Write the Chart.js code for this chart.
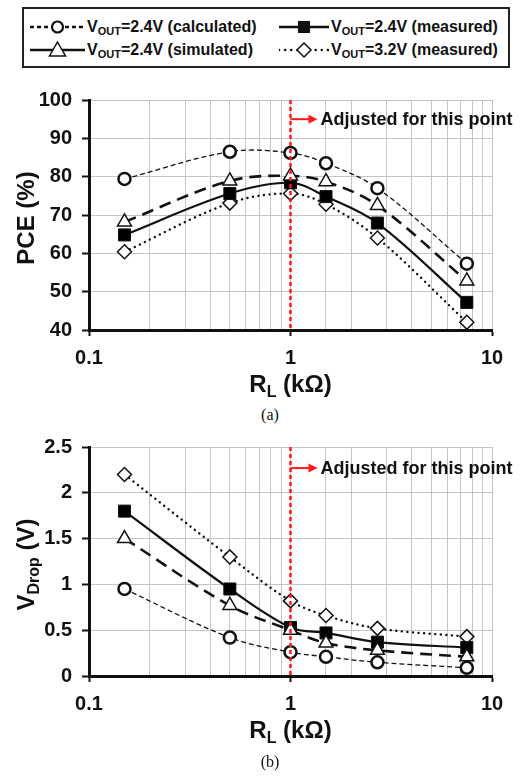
<!DOCTYPE html>
<html lang="en">
<head>
<meta charset="UTF-8">
<title>PCE and VDrop vs RL</title>
<script src="https://cdn.jsdelivr.net/npm/chart.js"></script>
<style>
    body { margin: 0; width: 527px; height: 777px; background: #fff; position: relative; overflow: hidden;
           font-family: 'Liberation Sans', Arial, sans-serif; color: #111; }
    .legend { position: absolute; left: 22px; top: 7px; width: 484px; height: 57px; border: 2px solid #222; }
    .item { position: absolute; display: flex; align-items: center; height: 20px; font-weight: bold; font-size: 16px; white-space: nowrap; }
    .item svg { margin-right: 2px; }
    .item sub { font-size: 11px; vertical-align: -3px; line-height: 0; }
    .chart { position: absolute; left: 0; width: 527px; }
    .caption { position: absolute; left: 250px; width: 40px; text-align: center; font-family: 'Liberation Serif', serif; font-size: 16px; line-height: 18px; }
</style>
</head>
<body>
<div class="legend" id="legend"></div>
<div class="chart" style="top:78px; height:322px;"><canvas id="pceChart"></canvas></div>
<div class="caption" style="top:406px;">(a)</div>
<div class="chart" style="top:425px; height:330px;"><canvas id="dropChart"></canvas></div>
<div class="caption" style="top:753px;">(b)</div>

<script>
// load resistance, kOhm
const rl = [0.15, 0.5, 1, 1.5, 2.7, 7.5];

// (a) PCE, %
const pceCalc24 = [79.4, 86.5, 86.2, 83.5, 77.0, 57.3];
const pceSim24 = [68.2, 78.9, 80.2, 78.7, 72.5, 52.8];
const pceMeas24 = [64.8, 75.6, 78.4, 74.8, 67.9, 47.2];
const pceMeas32 = [60.4, 73.1, 75.6, 72.8, 64.0, 42.0];

// (b) VDrop, V
const dropCalc24 = [0.95, 0.42, 0.26, 0.21, 0.15, 0.09];
const dropSim24 = [1.50, 0.77, 0.50, 0.36, 0.28, 0.21];
const dropMeas24 = [1.80, 0.95, 0.53, 0.47, 0.37, 0.31];
const dropMeas32 = [2.20, 1.30, 0.82, 0.66, 0.52, 0.43];

const seriesLabels = ['2.4V (calculated)', '2.4V (simulated)', '2.4V (measured)', '3.2V (measured)'];

// marker note
const adjustedAt = 1;
const noteText = 'Adjusted for this point';

const FONT = "'Liberation Sans', Arial, sans-serif";

// line / marker looks, same order as seriesLabels
const styles = [
    { borderWidth: 1.3, borderDash: [5, 3], pointStyle: 'circle', pointRadius: 6, pointBorderWidth: 2.5, pointBackgroundColor: '#fff' },
    { borderWidth: 2.6, borderDash: [12, 7], pointStyle: 'triangle', pointRadius: 8, pointBorderWidth: 1.5, pointBackgroundColor: '#fff' },
    { borderWidth: 2.2, borderDash: [], pointStyle: 'rect', pointRadius: 8.5, pointBorderWidth: 1, pointBackgroundColor: '#000' },
    { borderWidth: 2.4, borderDash: [0.1, 5.5], borderCapStyle: 'round', pointStyle: 'rectRot', pointRadius: 7, pointBorderWidth: 1.5, pointBackgroundColor: '#fff' }
];

// ---- legend (html, for the subscripts)
const legendSymbols = [
    `<line x1="0" y1="10" x2="55" y2="10" stroke="#111" stroke-width="2.5" stroke-dasharray="4,3"/>
     <circle cx="27.5" cy="10" r="5.5" fill="#fff" stroke="#111" stroke-width="2.2"/>`,
    `<line x1="0" y1="10" x2="55" y2="10" stroke="#111" stroke-width="2.5"/>
     <polygon points="27.5,2 35.5,16 19.5,16" fill="#fff" stroke="#111" stroke-width="1.5"/>`,
    `<line x1="0" y1="10" x2="50" y2="10" stroke="#111" stroke-width="2.5"/>
     <rect x="19" y="4" width="12" height="12" fill="#111"/>`,
    `<line x1="0" y1="10" x2="50" y2="10" stroke="#111" stroke-width="2.5" stroke-linecap="round" stroke-dasharray="0.1,6"/>
     <polygon points="25,3 32,10 25,17 18,10" fill="#fff" stroke="#111" stroke-width="1.5"/>`
];
const legendPos = [[6, 8, 55], [6, 31, 55], [255, 8, 50], [255, 31, 50]];

document.getElementById('legend').innerHTML = seriesLabels.map((lab, i) => {
    const [l, t, w] = legendPos[i];
    return `<div class="item" style="left:${l}px; top:${t}px;">
        <svg width="${w}" height="20">${legendSymbols[i]}</svg>
        <span>V<sub>OUT</sub>=${lab}</span></div>`;
}).join('');

// ---- helpers
function drawRich(ctx, parts, cx, cy, size) {
    const subSize = Math.round(size * 0.66);
    const fonts = parts.map(p => `bold ${p.sub ? subSize : size}px ${FONT}`);
    const widths = parts.map((p, i) => { ctx.font = fonts[i]; return ctx.measureText(p.t).width; });
    let x = cx - widths.reduce((a, b) => a + b, 0) / 2;
    ctx.textAlign = 'left';
    ctx.textBaseline = 'middle';
    parts.forEach((p, i) => {
        ctx.font = fonts[i];
        ctx.fillText(p.t, x, cy + (p.sub ? size * 0.3 : 0));
        x += widths[i];
    });
}

const isDecade = v => Math.abs(Math.log10(v) - Math.round(Math.log10(v))) < 1e-6;

const overlay = {
    id: 'overlay',
    afterDatasetsDraw(chart, args, opts) {
        const { ctx, chartArea: a, scales: { x, y } } = chart;
        const px = x.getPixelForValue(opts.markX);
        const ay = y.getPixelForValue(opts.noteY);
        ctx.save();
        ctx.strokeStyle = '#ff1a1a';
        ctx.lineWidth = 2.5;
        ctx.setLineDash([4, 3]);
        ctx.beginPath(); ctx.moveTo(px, a.top); ctx.lineTo(px, a.bottom); ctx.stroke();
        ctx.setLineDash([]);
        ctx.lineWidth = 2;
        ctx.beginPath(); ctx.moveTo(px, ay); ctx.lineTo(px + 20, ay); ctx.stroke();
        ctx.fillStyle = '#ff1a1a';
        ctx.beginPath(); ctx.moveTo(px + 27, ay); ctx.lineTo(px + 18, ay - 4.5); ctx.lineTo(px + 18, ay + 4.5); ctx.closePath(); ctx.fill();
        ctx.fillStyle = '#111';
        ctx.font = `bold 18px ${FONT}`;
        ctx.textBaseline = 'middle';
        ctx.fillText(opts.note, px + 30, ay + 1);
        ctx.restore();
    },
    afterDraw(chart, args, opts) {
        const { ctx, chartArea: a } = chart;
        ctx.save();
        ctx.fillStyle = '#111';
        drawRich(ctx, [{ t: 'R' }, { t: 'L', sub: true }, { t: ' (kΩ)' }], (a.left + a.right) / 2, a.bottom + 55, 24);
        ctx.translate(27, (a.top + a.bottom) / 2 + 3);
        ctx.rotate(-Math.PI / 2);
        drawRich(ctx, opts.yTitle, 0, 0, 24);
        ctx.restore();
    }
};

function makeChart(id, series, yOpts, noteY, yTitle, padTop, xHeight) {
    return new Chart(document.getElementById(id), {
        type: 'line',
        data: {
            datasets: series.map((vals, i) => Object.assign({
                label: seriesLabels[i],
                data: rl.map((r, j) => ({ x: r, y: vals[j] })),
                borderColor: '#111',
                pointBorderColor: '#111',
                tension: 0.35,
                fill: false
            }, styles[i]))
        },
        options: {
            responsive: true,
            maintainAspectRatio: false,
            animation: false,
            layout: { padding: { top: padTop, right: 35, left: 0, bottom: 0 } },
            plugins: {
                legend: { display: false },
                tooltip: { enabled: false },
                overlay: { markX: adjustedAt, noteY: noteY, note: noteText, yTitle: yTitle }
            },
            scales: {
                x: {
                    type: 'logarithmic',
                    min: 0.1, max: 10,
                    afterFit: s => { s.height = xHeight; },
                    border: { color: '#111', width: 3 },
                    grid: {
                        color: '#c4c4c4', lineWidth: 1, tickLength: 6, tickWidth: 2,
                        tickColor: c => (c.tick && isDecade(c.tick.value)) ? '#111' : 'rgba(0,0,0,0)'
                    },
                    ticks: {
                        autoSkip: false, maxRotation: 0, padding: 10, color: '#111',
                        font: { size: 20, weight: 'bold', family: FONT },
                        callback: v => isDecade(v) ? String(v) : ''
                    }
                },
                y: Object.assign({
                    afterFit: s => { s.width = 89; },
                    border: { color: '#111', width: 3 },
                    grid: { color: '#c4c4c4', lineWidth: 1, tickLength: 7, tickWidth: 2, tickColor: '#111' }
                }, yOpts)
            }
        },
        plugins: [overlay]
    });
}

const yTicks = step => ({
    stepSize: step, padding: 10, color: '#111',
    font: { size: 20, weight: 'bold', family: FONT },
    callback: v => String(Math.round(v * 10) / 10)
});

makeChart('pceChart', [pceCalc24, pceSim24, pceMeas24, pceMeas32],
    { min: 40, max: 100, ticks: yTicks(10) },
    95, [{ t: 'PCE (%)' }], 20, 70);

makeChart('dropChart', [dropCalc24, dropSim24, dropMeas24, dropMeas32],
    { min: 0, max: 2.5, ticks: yTicks(0.5) },
    2.27, [{ t: 'V' }, { t: 'Drop', sub: true }, { t: ' (V)' }], 17, 79);
</script>
</body>
</html>
